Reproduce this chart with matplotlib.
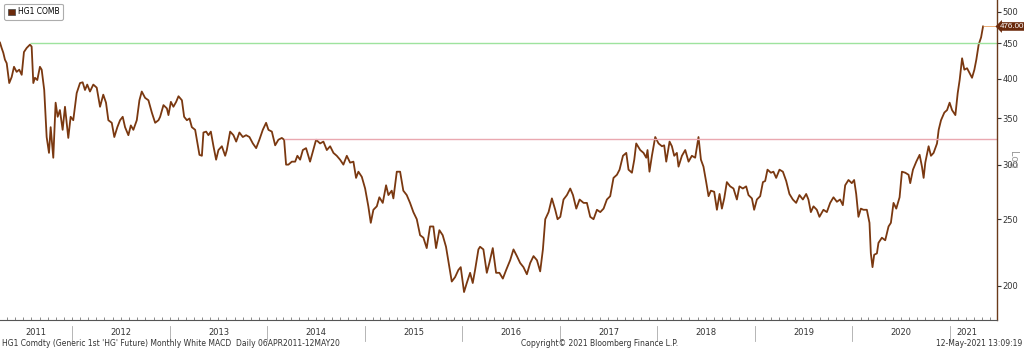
import datetime as dt
import matplotlib
matplotlib.use("Agg")
import matplotlib.pyplot as plt
import matplotlib.dates as mdates
from matplotlib.patches import Patch

# HG1 COMB, decimal year / price
years = [
    2011.260, 2011.277, 2011.294, 2011.311, 2011.329, 2011.355, 2011.380, 2011.404,
    2011.431, 2011.458, 2011.483, 2011.506, 2011.534, 2011.568, 2011.585, 2011.602,
    2011.619, 2011.643, 2011.670, 2011.688, 2011.714, 2011.739, 2011.763, 2011.780,
    2011.807, 2011.831, 2011.852, 2011.875, 2011.903, 2011.927, 2011.961, 2011.985,
    2012.012, 2012.047, 2012.081, 2012.108, 2012.132, 2012.155, 2012.183, 2012.217,
    2012.252, 2012.286, 2012.319, 2012.347, 2012.371, 2012.406, 2012.432, 2012.463,
    2012.491, 2012.518, 2012.542, 2012.576, 2012.601, 2012.627, 2012.662, 2012.689,
    2012.713, 2012.747, 2012.781, 2012.816, 2012.850, 2012.884, 2012.901, 2012.935,
    2012.970, 2012.986, 2013.011, 2013.037, 2013.065, 2013.089, 2013.124, 2013.147,
    2013.175, 2013.202, 2013.226, 2013.260, 2013.284, 2013.304, 2013.329, 2013.345,
    2013.373, 2013.396, 2013.421, 2013.448, 2013.475, 2013.499, 2013.534, 2013.568,
    2013.585, 2013.619, 2013.653, 2013.681, 2013.714, 2013.749, 2013.783, 2013.817,
    2013.852, 2013.886, 2013.919, 2013.954, 2013.988, 2014.012, 2014.047, 2014.081,
    2014.114, 2014.149, 2014.173, 2014.193, 2014.217, 2014.252, 2014.286, 2014.309,
    2014.337, 2014.365, 2014.398, 2014.439, 2014.467, 2014.501, 2014.542, 2014.576,
    2014.611, 2014.645, 2014.679, 2014.713, 2014.747, 2014.781, 2014.816, 2014.850,
    2014.884, 2014.911, 2014.935, 2014.970, 2015.004, 2015.037, 2015.062, 2015.089,
    2015.124, 2015.150, 2015.185, 2015.219, 2015.243, 2015.277, 2015.294, 2015.329,
    2015.363, 2015.396, 2015.431, 2015.465, 2015.499, 2015.534, 2015.568, 2015.602,
    2015.636, 2015.670, 2015.704, 2015.732, 2015.766, 2015.800, 2015.834, 2015.868,
    2015.893, 2015.927, 2015.961, 2015.985, 2016.019, 2016.047, 2016.081, 2016.108,
    2016.132, 2016.166, 2016.183, 2016.217, 2016.252, 2016.278, 2016.313, 2016.347,
    2016.381, 2016.416, 2016.450, 2016.491, 2016.525, 2016.560, 2016.593, 2016.627,
    2016.662, 2016.696, 2016.730, 2016.765, 2016.798, 2016.826, 2016.850, 2016.884,
    2016.918, 2016.952, 2016.976, 2017.004, 2017.037, 2017.072, 2017.106, 2017.134,
    2017.168, 2017.202, 2017.243, 2017.277, 2017.311, 2017.345, 2017.380, 2017.414,
    2017.448, 2017.482, 2017.516, 2017.550, 2017.585, 2017.612, 2017.647, 2017.681,
    2017.704, 2017.739, 2017.763, 2017.783, 2017.824, 2017.858, 2017.886, 2017.899,
    2017.919, 2017.944, 2017.978, 2018.012, 2018.047, 2018.070, 2018.091, 2018.125,
    2018.149, 2018.173, 2018.200, 2018.217, 2018.252, 2018.286, 2018.320, 2018.354,
    2018.388, 2018.422, 2018.447, 2018.473, 2018.501, 2018.525, 2018.549, 2018.583,
    2018.611, 2018.638, 2018.662, 2018.686, 2018.713, 2018.747, 2018.781, 2018.816,
    2018.842, 2018.877, 2018.911, 2018.935, 2018.970, 2018.993, 2019.021, 2019.055,
    2019.083, 2019.106, 2019.130, 2019.165, 2019.191, 2019.219, 2019.253, 2019.288,
    2019.322, 2019.355, 2019.390, 2019.424, 2019.458, 2019.493, 2019.527, 2019.550,
    2019.575, 2019.602, 2019.636, 2019.663, 2019.704, 2019.739, 2019.773, 2019.807,
    2019.842, 2019.875, 2019.903, 2019.927, 2019.961, 2019.995, 2020.019, 2020.040,
    2020.063, 2020.088, 2020.114, 2020.149, 2020.176, 2020.190, 2020.207, 2020.224,
    2020.252, 2020.268, 2020.303, 2020.337, 2020.371, 2020.395, 2020.422, 2020.450,
    2020.484, 2020.508, 2020.542, 2020.576, 2020.593, 2020.621, 2020.655, 2020.689,
    2020.713, 2020.730, 2020.747, 2020.781, 2020.805, 2020.832, 2020.867, 2020.884,
    2020.908, 2020.942, 2020.970, 2020.996, 2021.021, 2021.055, 2021.079, 2021.099,
    2021.124, 2021.147, 2021.175, 2021.202, 2021.226, 2021.250, 2021.270, 2021.294,
    2021.319, 2021.339,
]
price = [
    451, 443, 436, 426, 421, 394, 402, 416, 409, 412, 405, 437, 443, 448, 445, 394,
    401, 398, 416, 412, 385, 329, 312, 340, 307, 369, 352, 360, 337, 364, 328, 352,
    348, 381, 394, 395, 385, 392, 383, 392, 388, 364, 379, 369, 348, 345, 329, 340,
    348, 352, 340, 331, 342, 337, 348, 372, 383, 375, 372, 357, 345, 348, 352, 366,
    362, 354, 370, 364, 370, 377, 372, 352, 348, 350, 340, 337, 322, 310, 309, 334,
    335, 331, 335, 319, 305, 315, 319, 309, 315, 335, 331, 324, 334, 329, 331, 329,
    322, 317, 326, 337, 345, 337, 335, 320, 326, 328, 326, 300, 300, 303, 303, 309,
    305, 315, 317, 303, 313, 326, 322, 324, 315, 319, 312, 309, 305, 300, 309, 302,
    303, 287, 293, 288, 277, 261, 247, 258, 261, 269, 264, 280, 271, 275, 268, 293,
    293, 275, 271, 264, 256, 250, 237, 235, 227, 244, 244, 227, 241, 237, 228, 213,
    203, 206, 211, 213, 196, 202, 209, 202, 211, 226, 228, 226, 209, 216, 227, 209,
    209, 205, 211, 218, 226, 221, 216, 213, 208, 216, 221, 218, 210, 226, 250, 256,
    268, 258, 250, 252, 267, 271, 277, 271, 259, 267, 264, 264, 252, 250, 258, 256,
    259, 267, 270, 287, 290, 295, 309, 312, 295, 292, 305, 322, 315, 312, 307, 315,
    293, 309, 329, 322, 319, 320, 303, 324, 319, 309, 312, 298, 309, 315, 303, 309,
    307, 329, 305, 298, 283, 270, 275, 274, 258, 272, 259, 268, 283, 279, 277, 267,
    279, 277, 279, 271, 268, 258, 267, 270, 283, 284, 295, 292, 293, 287, 295, 293,
    284, 272, 267, 264, 271, 267, 272, 267, 256, 261, 258, 252, 258, 256, 264, 269,
    265, 267, 262, 280, 285, 282, 285, 272, 252, 259, 258, 258, 247, 223, 213, 222,
    223, 231, 235, 233, 244, 247, 264, 259, 269, 293, 292, 290, 282, 295, 303, 310,
    298, 287, 302, 319, 309, 312, 322, 337, 348, 357, 360, 369, 360, 354, 381, 398,
    428, 412, 414, 407, 401, 412, 426, 448, 459, 476,
]

resistance_high = 450
resistance_low = 327
last_value = 476.00
y_ticks = [200, 250, 300, 350, 400, 450, 500]
year_labels = ["2011", "2012", "2013", "2014", "2015", "2016", "2017", "2018", "2019", "2020", "2021"]


def to_date(y):
    yr = int(y)
    start = dt.datetime(yr, 1, 1)
    return start + (dt.datetime(yr + 1, 1, 1) - start) * (y - yr)


dates = [to_date(y) for y in years]
x_start = dt.datetime(2011, 4, 6)
x_end = dt.datetime(2021, 6, 26)

brown = "#7a3810"

fig = plt.figure(figsize=(10.24, 3.49), dpi=100)
ax = fig.add_axes([0.0, 0.083, 997 / 1024, 0.917])

ax.plot(dates, price, color=brown, lw=1.3)
ax.hlines(resistance_high, to_date(2011.57), x_end, color="#9ee39e", lw=1.0)
ax.hlines(resistance_low, to_date(2014.17), x_end, color="#eaa8b0", lw=1.0)
ax.hlines(last_value, dates[-1], x_end, color="#e8a060", lw=0.6)

ax.set_yscale("log")
ax.set_ylim(178.5, 520)
ax.set_xlim(x_start, x_end)

ax.yaxis.tick_right()
ax.set_yticks(y_ticks)
ax.set_yticklabels([str(t) for t in y_ticks])
ax.yaxis.set_minor_locator(plt.NullLocator())
ax.tick_params(axis="y", which="major", direction="out", length=3, width=0.8,
               color="#333333", labelsize=6, labelcolor="#333333", pad=1)

for s in ["left", "top"]:
    ax.spines[s].set_visible(False)
ax.spines["right"].set_color("#6a3a1a")
ax.spines["right"].set_linewidth(1.0)
ax.spines["bottom"].set_color("#555555")
ax.spines["bottom"].set_linewidth(0.8)

# monthly ticks on the bottom, year labels centred in each year
ax.xaxis.set_major_locator(mdates.MonthLocator())
ax.xaxis.set_major_formatter(plt.NullFormatter())
ax.tick_params(axis="x", which="major", direction="in", length=2.5, width=0.6, color="#777777")

trans = ax.get_xaxis_transform()
for i, lab in enumerate(year_labels):
    yr = 2011 + i
    a = max(dt.datetime(yr, 1, 1), x_start)
    b = min(dt.datetime(yr + 1, 1, 1), dates[-1])
    ax.text(a + (b - a) / 2, -0.04, lab, transform=trans, ha="center", va="center",
            fontsize=6, color="#333333")
    if yr > 2011:
        ax.plot([a, a], [-0.018, -0.065], transform=trans, clip_on=False,
                color="#aaaaaa", lw=0.6)

ax.text(1.003, last_value, "476.00", transform=ax.get_yaxis_transform(), ha="left",
        va="center", fontsize=5.8, color="white", family="Liberation Sans",
        bbox=dict(boxstyle="larrow,pad=0.1", facecolor="#6b2a0c", edgecolor="none"))

fig.text(1013 / 1024, 1 - 160 / 349, "Log", rotation=270, ha="center", va="center",
         fontsize=7, color="#999999")

leg = ax.legend(handles=[Patch(facecolor="#6b2a0c", edgecolor="#444444", lw=0.5)],
                labels=["HG1 COMB"], loc="upper left", bbox_to_anchor=(0.002, 0.995),
                fontsize=5.5, frameon=True, fancybox=True, handlelength=0.9,
                handleheight=0.9, handletextpad=0.4, borderpad=0.45, borderaxespad=0.3)
leg.get_frame().set_edgecolor("#999999")
leg.get_frame().set_linewidth(0.8)

fig.text(2 / 1024, 5 / 349, "HG1 Comdty (Generic 1st 'HG' Future) Monthly White MACD  Daily 06APR2011-12MAY20",
         fontsize=5.5, color="#333333", ha="left", va="center")
fig.text(600 / 1024, 5 / 349, "Copyright\u00a9 2021 Bloomberg Finance L.P.",
         fontsize=5.5, color="#333333", ha="center", va="center")
fig.text(1022 / 1024, 5 / 349, "12-May-2021 13:09:19",
         fontsize=5.5, color="#333333", ha="right", va="center")

fig.savefig("out.png", dpi=100, facecolor="white")
